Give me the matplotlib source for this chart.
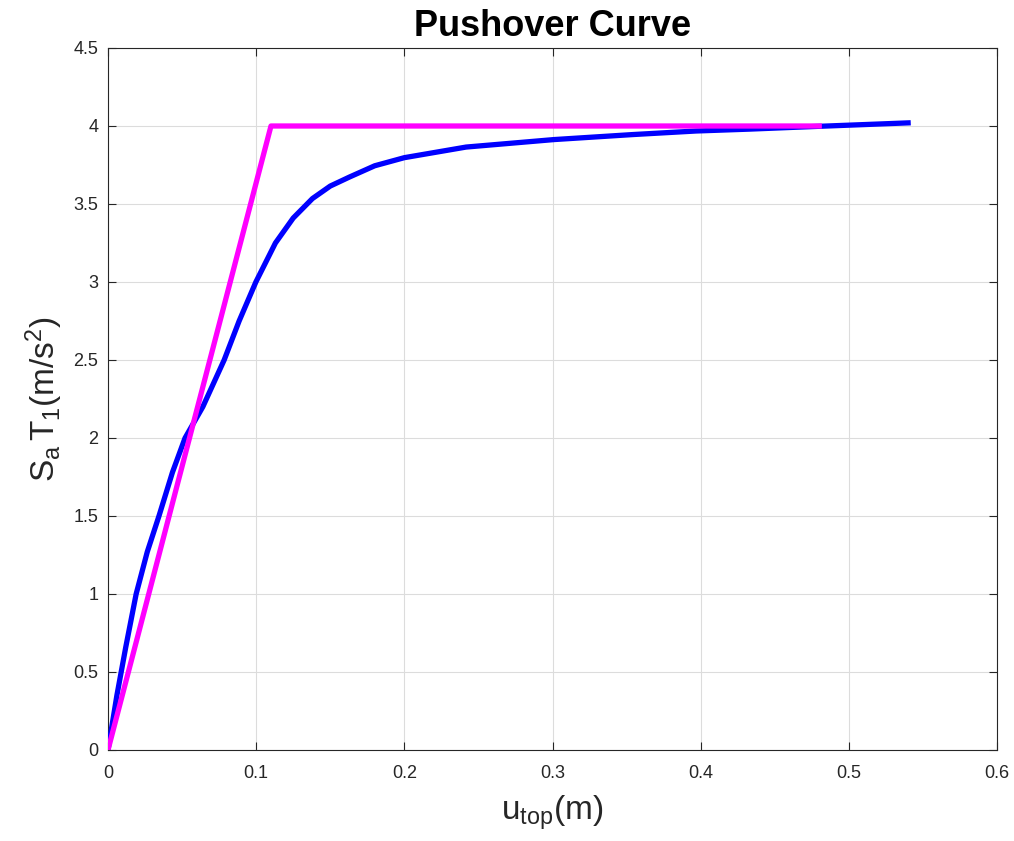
import matplotlib
matplotlib.use("Agg")
import matplotlib.pyplot as plt

plt.rcParams["font.family"] = ["Liberation Sans", "DejaVu Sans"]
plt.rcParams["mathtext.fontset"] = "custom"
plt.rcParams["mathtext.rm"] = "Liberation Sans"
plt.rcParams["mathtext.it"] = "Liberation Sans"

# pushover curve (blue)
u_push = [0.0, 0.006, 0.012, 0.019, 0.0265, 0.0344, 0.0435, 0.052, 0.058,
          0.064, 0.0784, 0.0885, 0.0998, 0.113, 0.125, 0.138, 0.150, 0.163,
          0.180, 0.200, 0.2417, 0.301, 0.354, 0.397, 0.433, 0.480, 0.540]
sa_push = [0.0, 0.35, 0.66, 1.00, 1.27, 1.50, 1.78, 2.00, 2.10,
           2.20, 2.50, 2.75, 3.00, 3.25, 3.41, 3.535, 3.615, 3.673,
           3.745, 3.797, 3.865, 3.913, 3.945, 3.968, 3.980, 3.998, 4.020]

# bilinear idealisation (magenta)
u_bilin = [0.0, 0.11, 0.48]
sa_bilin = [0.0, 4.0, 4.0]

fig = plt.figure(figsize=(10.14, 8.41), dpi=100)
ax = fig.add_axes([108 / 1014, 91 / 841, 889 / 1014, 702 / 841])

ax.plot(u_push, sa_push, color="#0000ff", linewidth=3.8, zorder=3,
        solid_joinstyle="round")
ax.plot(u_bilin, sa_bilin, color="#ff00ff", linewidth=3.8, zorder=4)

ax.set_xlim(0, 0.6)
ax.set_ylim(0, 4.5)
ax.set_xticks([0, 0.1, 0.2, 0.3, 0.4, 0.5, 0.6])
ax.set_xticklabels(["0", "0.1", "0.2", "0.3", "0.4", "0.5", "0.6"])
ax.set_yticks([0, 0.5, 1, 1.5, 2, 2.5, 3, 3.5, 4, 4.5])
ax.set_yticklabels(["0", "0.5", "1", "1.5", "2", "2.5", "3", "3.5", "4", "4.5"])
ax.grid(True, color="#dcdcdc", linewidth=0.8)
ax.set_axisbelow(True)
ax.tick_params(direction="in", length=6, width=0.8, labelsize=13,
               colors="#262626", top=True, right=True, labeltop=False,
               labelright=False)
ax.tick_params(axis="x", pad=11)
ax.tick_params(axis="y", pad=7)
for s in ax.spines.values():
    s.set_color("#262626")
    s.set_linewidth(0.8)

ax.set_xlabel(r"$\mathregular{u_{top}(m)}$", fontsize=24, color="#262626",
              labelpad=8)
ax.set_ylabel(r"$\mathregular{S_a\,T_1(m/s^2)}$", fontsize=24, color="#262626",
              labelpad=6)
ax.set_title("Pushover Curve", fontsize=26, fontweight="bold", pad=9)

fig.savefig("out.png", dpi=100)
